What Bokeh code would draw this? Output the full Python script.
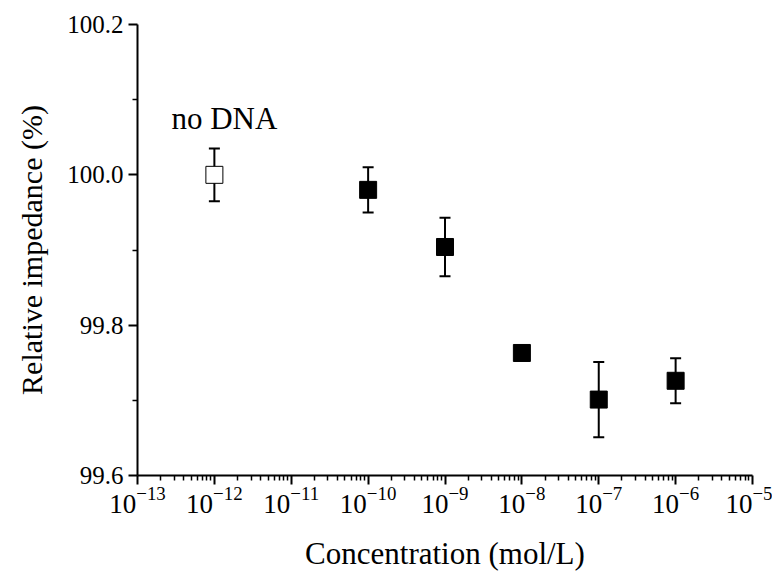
from bokeh.plotting import figure
from bokeh.models import (ColumnDataSource, Whisker, TeeHead, FixedTicker, Label,
                          LogTickFormatter, PrintfTickFormatter, Range1d)
from bokeh.embed import file_html
from bokeh.resources import INLINE

# ---- data ----
concentration = [1e-12, 1e-10, 1e-9, 1e-8, 1e-7, 1e-6]          # mol/L
relative_impedance = [100.000, 99.980, 99.904, 99.763, 99.701, 99.726]  # %
error = [0.035, 0.030, 0.039, 0.006, 0.050, 0.030]
is_control = [True, False, False, False, False, False]             # "no DNA" point
x_tick_exponents = [-13, -12, -11, -10, -9, -8, -7, -6, -5]
y_ticks = [99.6, 99.8, 100.0, 100.2]
y_minor_ticks = [99.7, 99.9, 100.1]
control_label = "no DNA"

FONT = "Liberation Serif"

src = ColumnDataSource(dict(
    x=concentration,
    y=relative_impedance,
    upper=[v + e for v, e in zip(relative_impedance, error)],
    lower=[v - e for v, e in zip(relative_impedance, error)],
    fill=["white" if c else "black" for c in is_control],
))

p = figure(frame_width=615, frame_height=451, x_axis_type="log",
           x_range=Range1d(10.0 ** x_tick_exponents[0], 10.0 ** x_tick_exponents[-1]),
           y_range=Range1d(y_ticks[0], y_ticks[-1]),
           output_backend="svg", toolbar_location=None,
           min_border_left=137, min_border_right=20,
           min_border_top=24, min_border_bottom=99)

p.xgrid.visible = False
p.ygrid.visible = False
p.outline_line_color = None
p.background_fill_color = "white"
p.border_fill_color = "white"

# error bars
p.add_layout(Whisker(source=src, base="x", upper="upper", lower="lower",
                     line_color="black", line_width=2,
                     upper_head=TeeHead(size=11, line_width=2, line_color="black"),
                     lower_head=TeeHead(size=11, line_width=2, line_color="black")))

# markers
p.scatter("x", "y", source=src, marker="square", size=17,
          fill_color="fill", line_color="black", line_width=1)

# "no DNA" annotation
ctrl_i = is_control.index(True)
p.add_layout(Label(x=concentration[ctrl_i], y=relative_impedance[ctrl_i] + 0.052,
                   text=control_label, text_align="center", x_offset=10,
                   text_font=FONT, text_font_size="31px", text_color="black"))

# ---- axes ----
minor_x = [m * 10.0 ** e for e in x_tick_exponents[:-1] for m in range(2, 10)]
xaxis = p.xaxis[0]
yaxis = p.yaxis[0]
xaxis.ticker = FixedTicker(ticks=[10.0 ** e for e in x_tick_exponents], minor_ticks=minor_x)
xaxis.formatter = LogTickFormatter()
yaxis.ticker = FixedTicker(ticks=y_ticks, minor_ticks=y_minor_ticks)
yaxis.formatter = PrintfTickFormatter(format="%.1f")

xaxis.axis_label = "Concentration (mol/L)"
yaxis.axis_label = "Relative impedance (%)"

for ax in (xaxis, yaxis):
    ax.update(
        axis_line_width=2, axis_line_color="black",
        major_tick_line_width=2, major_tick_line_color="black",
        minor_tick_line_width=1.5, minor_tick_line_color="black",
        major_tick_out=9, major_tick_in=0, minor_tick_out=5, minor_tick_in=0,
        major_label_text_font=FONT, major_label_text_color="black",
        axis_label_text_font=FONT, axis_label_text_font_style="normal",
        axis_label_text_color="black",
    )

xaxis.update(major_label_text_font_size="27px", major_label_standoff=2,
             axis_label_text_font_size="31px", axis_label_standoff=20)
yaxis.update(major_label_text_font_size="25px", major_label_standoff=5,
             axis_label_text_font_size="30px", axis_label_standoff=16)

open("out.html", "w").write(file_html(p, INLINE))
